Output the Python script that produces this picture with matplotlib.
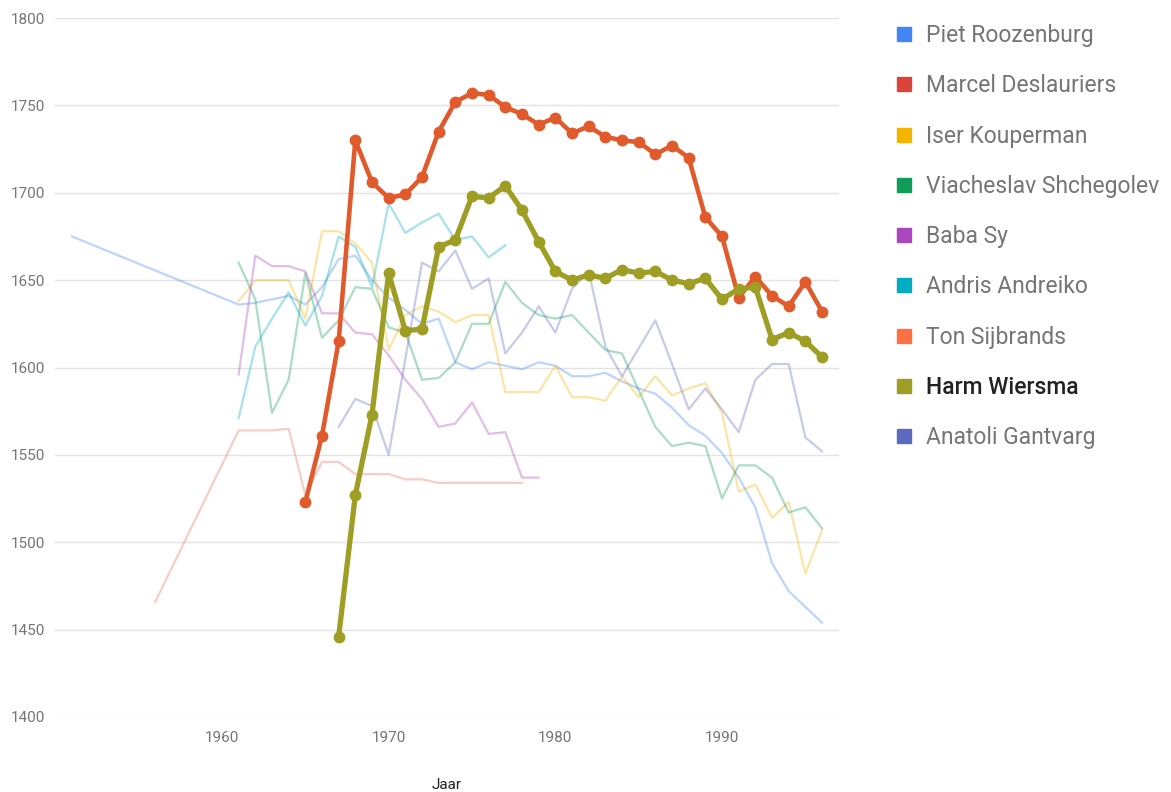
import matplotlib
matplotlib.use("Agg")
import matplotlib.pyplot as plt
from matplotlib.lines import Line2D

plt.rcParams['font.family'] = ['Roboto', 'DejaVu Sans']

# ---- data ----
piet_years = [1951, 1961, 1962, 1963, 1964, 1965, 1966, 1967, 1968, 1969, 1970, 1971, 1972, 1973,
              1974, 1975, 1976, 1977, 1978, 1979, 1980, 1981, 1982, 1983, 1984, 1985, 1986, 1987,
              1988, 1989, 1990, 1991, 1992, 1993, 1994, 1995, 1996]
piet_elo = [1675, 1636, 1637, 1639, 1641, 1636, 1646, 1662, 1664, 1650, 1640, 1633, 1625, 1628,
            1603, 1599, 1603, 1601, 1599, 1603, 1601, 1595, 1595, 1597, 1592, 1588, 1585, 1577,
            1567, 1561, 1551, 1537, 1520, 1488, 1472, 1463, 1454]

marcel_years = list(range(1965, 1997))
marcel_elo = [1523, 1561, 1615, 1730, 1706, 1697, 1699, 1709, 1735, 1752, 1757, 1756, 1749, 1745,
              1739, 1743, 1734, 1738, 1732, 1730, 1729, 1722, 1727, 1720, 1686, 1675, 1640, 1652,
              1641, 1635, 1649, 1632]

iser_years = list(range(1961, 1997))
iser_elo = [1638, 1650, 1650, 1650, 1628, 1678, 1678, 1671, 1660, 1610, 1630, 1635, 1632, 1626,
            1630, 1630, 1586, 1586, 1586, 1601, 1583, 1583, 1581, 1595, 1583, 1595, 1584, 1588,
            1591, 1574, 1529, 1533, 1514, 1523, 1482, 1507]

viach_years = list(range(1961, 1997))
viach_elo = [1660, 1639, 1574, 1593, 1654, 1617, 1627, 1646, 1645, 1623, 1620, 1593, 1594, 1603,
             1625, 1625, 1649, 1637, 1630, 1628, 1630, 1620, 1610, 1608, 1587, 1566, 1555, 1557,
             1555, 1525, 1544, 1544, 1537, 1517, 1520, 1508]

baba_years = list(range(1961, 1980))
baba_elo = [1596, 1664, 1658, 1658, 1655, 1631, 1631, 1620, 1619, 1607, 1593, 1582, 1566, 1568,
            1580, 1562, 1563, 1537, 1537]

andris_years = list(range(1961, 1978))
andris_elo = [1571, 1612, 1628, 1643, 1624, 1641, 1675, 1669, 1646, 1694, 1677, 1683, 1688, 1673,
              1675, 1663, 1670]

ton_years = [1956] + list(range(1961, 1979))
ton_elo = [1466, 1564, 1564, 1564, 1565, 1527, 1546, 1546, 1539, 1539, 1539, 1536, 1536, 1534,
           1534, 1534, 1534, 1534, 1534]

harm_years = list(range(1967, 1997))
harm_elo = [1446, 1527, 1573, 1654, 1621, 1622, 1669, 1673, 1698, 1697, 1704, 1690, 1672, 1655,
            1650, 1653, 1651, 1656, 1654, 1655, 1650, 1648, 1651, 1639, 1645, 1646, 1616, 1620,
            1615, 1606]

anatoli_years = list(range(1967, 1997))
anatoli_elo = [1566, 1582, 1578, 1550, 1605, 1660, 1655, 1667, 1645, 1651, 1608, 1620, 1635, 1620,
               1645, 1655, 1612, 1595, 1611, 1627, 1602, 1576, 1588, 1576, 1563, 1593, 1602, 1602,
               1560, 1552]

names = ["Piet Roozenburg", "Marcel Deslauriers", "Iser Kouperman", "Viacheslav Shchegolev",
         "Baba Sy", "Andris Andreiko", "Ton Sijbrands", "Harm Wiersma", "Anatoli Gantvarg"]
legend_colors = ["#4285F4", "#DB4437", "#F4B400", "#0F9D58", "#AB47BC", "#00ACC1", "#FF7043",
                 "#9E9D24", "#5C6BC0"]

faint = [
    (piet_years, piet_elo, "#4285F4"),
    (iser_years, iser_elo, "#F4B400"),
    (viach_years, viach_elo, "#0F9D58"),
    (baba_years, baba_elo, "#AB47BC"),
    (andris_years, andris_elo, "#00ACC1"),
    (ton_years, ton_elo, "#EB6F62"),
    (anatoli_years, anatoli_elo, "#5C6BC0"),
]

fig = plt.figure(figsize=(11.71, 7.92), dpi=100)
ax = fig.add_axes([55.3 / 1171, 75 / 792, 783.4 / 1171, 699 / 792])

for yrs, vals, col in faint:
    ax.plot(yrs, vals, color=col, lw=1.6, alpha=0.35, solid_joinstyle='round')

# highlighted series
ax.plot(marcel_years, marcel_elo, color="#E05A2B", lw=3.3, marker='o', markersize=7.5,
        solid_joinstyle='round')
ax.plot(harm_years, harm_elo, color="#9E9D24", lw=3.8, marker='o', markersize=7.5,
        solid_joinstyle='round')

ax.set_xlim(1950, 1997)
ax.set_ylim(1400, 1800)
ax.set_xticks([1960, 1970, 1980, 1990])
ax.set_yticks(range(1400, 1801, 50))
ax.grid(axis='y', color='#e3e3e3', lw=1)
ax.set_axisbelow(True)
for s in ax.spines.values():
    s.set_visible(False)
ax.tick_params(length=0, labelsize=11, labelcolor='#757575')
ax.tick_params(axis='y', pad=7)
ax.tick_params(axis='x', pad=10)
ax.set_xlabel("Jaar", fontsize=11, color='#222222', labelpad=24)

handles = [Line2D([], [], marker='s', linestyle='none', markersize=10, color=c)
           for c in legend_colors]
leg = fig.legend(handles, names, loc='upper left', bbox_to_anchor=(895 / 1171, 1 - 24 / 792),
                 frameon=False, fontsize=16.5, labelspacing=1.19, handletextpad=0.55,
                 borderaxespad=0, borderpad=0, handlelength=0.8)
for t in leg.get_texts():
    t.set_color('#757575')
leg.get_texts()[7].set_color('#222222')
leg.get_texts()[7].set_fontweight('medium')

fig.savefig("out.png", dpi=100)
